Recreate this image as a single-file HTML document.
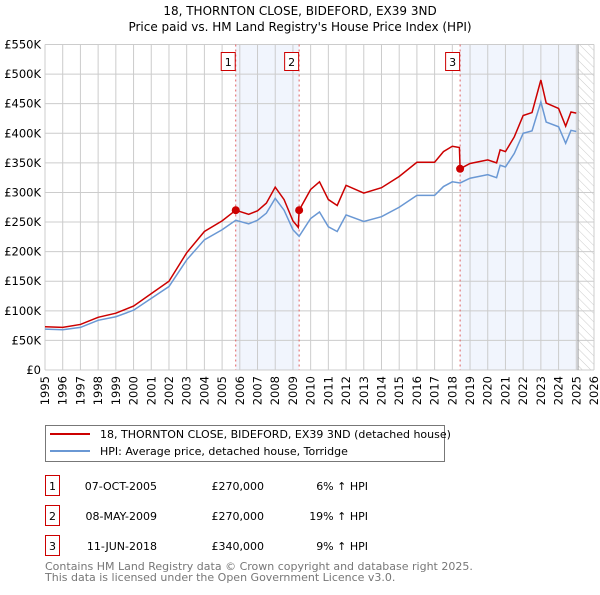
<!DOCTYPE html>
<html><head><meta charset="utf-8"><style>
body{margin:0;background:#fff;font-family:"Liberation Sans","DejaVu Sans",sans-serif}
svg text{font-family:"DejaVu Sans","Liberation Sans",sans-serif}
</style></head><body>
<svg id="chart" width="600" height="590" viewBox="0 0 600 590" xmlns="http://www.w3.org/2000/svg">
<defs><pattern id="hatch" width="6" height="6" patternUnits="userSpaceOnUse" patternTransform="rotate(-45)"><line x1="0" y1="0" x2="0" y2="6" stroke="#ccc" stroke-width="1"/></pattern></defs>
<text x="300" y="15" text-anchor="middle" font-size="12">18, THORNTON CLOSE, BIDEFORD, EX39 3ND</text>
<text x="300" y="31" text-anchor="middle" font-size="12">Price paid vs. HM Land Registry's House Price Index (HPI)</text>
<g id="plot"></g>
<g>
<rect x="45.5" y="425.5" width="399" height="36" fill="#fff" stroke="#777"/>
<line x1="50" y1="434" x2="90" y2="434" stroke="#cc0000" stroke-width="2"/>
<text x="100" y="438" font-size="11">18, THORNTON CLOSE, BIDEFORD, EX39 3ND (detached house)</text>
<line x1="50" y1="451" x2="90" y2="451" stroke="#6a98d4" stroke-width="2"/>
<text x="100" y="455" font-size="11">HPI: Average price, detached house, Torridge</text>
</g>
<g font-size="11">
<rect x="45.5" y="475.5" width="14" height="20" fill="#fff" stroke="#cc0000"/><text x="52.5" y="490" text-anchor="middle">1</text>
<text x="157" y="490" text-anchor="end">07-OCT-2005</text><text x="264" y="490" text-anchor="end">£270,000</text><text x="368" y="490" text-anchor="end">6% ↑ HPI</text>
<rect x="45.5" y="505.5" width="14" height="20" fill="#fff" stroke="#cc0000"/><text x="52.5" y="520" text-anchor="middle">2</text>
<text x="157" y="520" text-anchor="end">08-MAY-2009</text><text x="264" y="520" text-anchor="end">£270,000</text><text x="368" y="520" text-anchor="end">19% ↑ HPI</text>
<rect x="45.5" y="535.5" width="14" height="20" fill="#fff" stroke="#cc0000"/><text x="52.5" y="550" text-anchor="middle">3</text>
<text x="157" y="550" text-anchor="end">11-JUN-2018</text><text x="264" y="550" text-anchor="end">£340,000</text><text x="368" y="550" text-anchor="end">9% ↑ HPI</text>
</g>
<text x="45" y="570" font-size="11" fill="#777">Contains HM Land Registry data © Crown copyright and database right 2025.</text>
<text x="45" y="581" font-size="11" fill="#777">This data is licensed under the Open Government Licence v3.0.</text>
</svg>
<script>
const hpiDates=[1995,1996,1997,1998,1999,2000,2001,2002,2003,2004,2005,2005.77,2006.5,2007,2007.5,2008,2008.5,2009,2009.35,2010,2010.5,2011,2011.5,2012,2013,2014,2015,2016,2017,2017.5,2018,2018.44,2019,2020,2020.5,2020.7,2021,2021.5,2022,2022.5,2023,2023.3,2024,2024.4,2024.7,2025];
const hpiValues=[69,68,72,84,90,101,121,141,186,220,237,253,247,253,265,290,270,237,226,256,267,242,234,262,251,259,275,295,295,310,318,316,324,330,325,346,343,366,400,404,453,419,411,383,405,403];
const priceDates=[1995,1996,1997,1998,1999,2000,2001,2002,2003,2004,2005,2005.77,2006.5,2007,2007.5,2008,2008.5,2009,2009.3,2009.35,2010,2010.5,2011,2011.5,2012,2013,2014,2015,2016,2017,2017.5,2018,2018.4,2018.44,2019,2020,2020.5,2020.7,2021,2021.5,2022,2022.5,2023,2023.3,2024,2024.4,2024.7,2025];
const priceValues=[73,72,77,89,96,108,129,150,198,234,252,270,263,269,282,309,288,252,241,270,305,318,288,278,312,299,308,327,351,351,369,378,376,340,349,355,350,372,369,394,430,435,490,451,442,412,436,434];
const saleLabels=["1","2","3"];
const saleDates=[2005.77,2009.35,2018.44];
const salePrices=[270,270,340];
const yTicks=[0,50,100,150,200,250,300,350,400,450,500,550];
const yTickLabels=["£0","£50K","£100K","£150K","£200K","£250K","£300K","£350K","£400K","£450K","£500K","£550K"];
const xYears=[1995,1996,1997,1998,1999,2000,2001,2002,2003,2004,2005,2006,2007,2008,2009,2010,2011,2012,2013,2014,2015,2016,2017,2018,2019,2020,2021,2022,2023,2024,2025,2026];
const dataEnd=2025.1;
const L=45,R=594,T=44.5,B=370;
const x=v=>L+(v-1995)*(R-L)/31;
const y=v=>B-v*(B-T)/550;
const g=document.getElementById('plot');
const NS='http://www.w3.org/2000/svg';
function mk(t,a){const e=document.createElementNS(NS,t);for(const k in a)e.setAttribute(k,a[k]);g.appendChild(e);return e;}
let e;
e=mk('rect',{x:L,y:T,width:R-L,height:B-T,fill:'#fff'});


e=mk('rect',{x:x(saleDates[0]),y:T,width:x(saleDates[1])-x(saleDates[0]),height:B-T,fill:'#eef3fc',opacity:0.8});


e=mk('rect',{x:x(saleDates[2]),y:T,width:x(dataEnd)-x(saleDates[2]),height:B-T,fill:'#eef3fc',opacity:0.8});


e=mk('rect',{x:x(dataEnd),y:T,width:R-x(dataEnd),height:B-T,fill:'url(#hatch)'});


yTicks.forEach((t,i)=>{
 e=mk('line',{x1:L,x2:R,y1:y(t),y2:y(t),stroke:'#ccc','stroke-width':1});
 
 
 e=mk('text',{x:L-4,y:y(t)+4,'text-anchor':'end','font-size':11.5});
 e.textContent=yTickLabels[i];
 
 
});
xYears.forEach(yr=>{
 e=mk('line',{x1:x(yr),x2:x(yr),y1:T,y2:B,stroke:'#ccc','stroke-width':1});
 
 
 e=mk('text',{x:0,y:0,'text-anchor':'end','font-size':11.5,transform:`translate(${x(yr)+4},${B+6}) rotate(-90)`});
 e.textContent=yr;
 
 
});
e=mk('line',{x1:x(dataEnd),x2:x(dataEnd),y1:T,y2:B,stroke:'#999','stroke-width':1});


saleDates.forEach((d,i)=>{
 e=mk('line',{x1:x(d),x2:x(d),y1:T,y2:B,stroke:'#e06060','stroke-width':1,'stroke-dasharray':'2,3'});
 
 
 e=mk('rect',{x:x(d)-14.5,y:52.5,width:14,height:18,fill:'#fff',stroke:'#cc0000'});
 
 
 e=mk('text',{x:x(d)-7.5,y:66,'text-anchor':'middle','font-size':11});
 e.textContent=saleLabels[i];
 
 
});
e=mk('polyline',{points:hpiDates.map((d,i)=>x(d)+','+y(hpiValues[i])).join(' '),fill:'none',stroke:'#6a98d4','stroke-width':1.5});


e=mk('polyline',{points:priceDates.map((d,i)=>x(d)+','+y(priceValues[i])).join(' '),fill:'none',stroke:'#cc0000','stroke-width':1.5});


saleDates.forEach((d,i)=>{
 e=mk('circle',{cx:x(d),cy:y(salePrices[i]),r:4,fill:'#cc0000'});
 
 
});
</script>
</body></html>
